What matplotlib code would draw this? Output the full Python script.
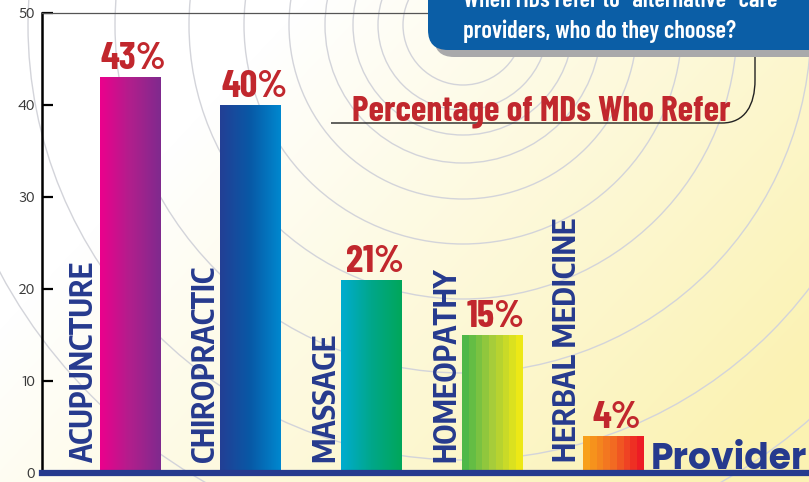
import numpy as np
import matplotlib
matplotlib.use("Agg")
import matplotlib.pyplot as plt
from matplotlib.patches import Circle, FancyBboxPatch, PathPatch
from matplotlib.path import Path
from matplotlib.colors import to_rgb

# data
providers = ["ACUPUNCTURE", "CHIROPRACTIC", "MASSAGE", "HOMEOPATHY", "HERBAL MEDICINE"]
percent = [43, 40, 21, 15, 4]
bar_stops = [
    ["#ec008c", "#b01f8c", "#7f2a8e"],
    ["#233f95", "#0859a6", "#0088cf"],
    ["#00acd0", "#00a78a", "#00a65a"],
    ["#4fb848", "#a6cd3a", "#ede816"],
    ["#f8a01b", "#f26a22", "#ed1c24"],
]
bar_steps = [256, 256, 256, 9, 9]
yticks = [0, 10, 20, 30, 40, 50]

NAVY = "#263a8e"
RED = "#c1272d"
COND = ["Barlow Condensed", "DejaVu Sans"]
LABEL = ["Encode Sans Condensed", "DejaVu Sans"]
GEO = ["Poppins", "DejaVu Sans"]

W, H = 809, 482
fig = plt.figure(figsize=(W / 100, H / 100), dpi=100)

# background: white -> pale yellow with concentric rings
bg = fig.add_axes([0, 0, 1, 1], zorder=0)
bg.set_xlim(0, W)
bg.set_ylim(H, 0)
bg.axis("off")
yy, xx = np.mgrid[0:H, 0:W]
t = np.clip((xx * 0.75 + yy * 0.7 - 230) / 640, 0, 1)[..., None]
grad = np.ones(3) * (1 - t) + np.array(to_rgb("#fbf2b2")) * t
bg.imshow(grad, extent=(0, W, H, 0), aspect="auto", zorder=0)
for r in [60, 85, 110, 138, 174, 219, 274, 348, 435, 525]:
    bg.add_patch(Circle((463, 25), r, fill=False, ec="#d3d4da", lw=1.0, zorder=1))

# main chart
ax = fig.add_axes([42 / W, 9.3 / H, (W - 42) / W, 460 / H], zorder=2)
ax.patch.set_alpha(0)
x = np.arange(len(providers))
width = 0.505
bars = ax.bar(x, percent, width, color="none", edgecolor="none", zorder=3)
for bar, stops, n in zip(bars, bar_stops, bar_steps):
    cols = np.array([to_rgb(c) for c in stops])
    s = np.linspace(0, 1, n)
    pos = np.linspace(0, 1, len(cols))
    g = np.stack([np.interp(s, pos, cols[:, k]) for k in range(3)], axis=-1)[None]
    x0, y0 = bar.get_x(), bar.get_y()
    im = ax.imshow(g, extent=(x0, x0 + bar.get_width(), y0, y0 + bar.get_height()),
                   aspect="auto", interpolation="nearest", zorder=3)
    im.set_clip_path(bar)

for i, (name, v) in enumerate(zip(providers, percent)):
    ax.text(i - 0.375, 1.15, name, rotation=90, ha="center", va="bottom",
            color=NAVY, fontsize=22, fontweight="bold", family=LABEL, zorder=4)
    ax.text(i + 0.03, v + 0.85, f"{v}%", ha="center", va="baseline",
            color=RED, fontsize=28, fontweight="bold", family=COND, zorder=4)

ax.set_xlim(-0.729, 5.623)
ax.set_ylim(0, 50)
ax.set_xticks([])
ax.set_yticks(yticks)
ax.tick_params(axis="y", direction="in", length=8, width=1.6, color="black",
               pad=5, labelsize=10.5, labelcolor="#3a3a3a")
for lab in ax.get_yticklabels():
    lab.set_family(["Kumbh Sans", "DejaVu Sans"])
ax.spines["right"].set_visible(False)
ax.spines["left"].set_color("black")
ax.spines["left"].set_linewidth(1.8)
ax.spines["top"].set_color("#555555")
ax.spines["top"].set_linewidth(0.9)
ax.spines["bottom"].set_color(NAVY)
ax.spines["bottom"].set_linewidth(4.5)
ax.spines["bottom"].set_zorder(5)

# overlay: title, callout box, axis name
ov = fig.add_axes([0, 0, 1, 1], zorder=5)
ov.set_xlim(0, W)
ov.set_ylim(H, 0)
ov.axis("off")
ov.patch.set_alpha(0)

verts = [(331, 123), (722, 123), (745, 123), (755, 105), (755, 80), (755, 50)]
codes = [Path.MOVETO, Path.LINETO, Path.CURVE4, Path.CURVE4, Path.CURVE4, Path.LINETO]
ov.add_patch(PathPatch(Path(verts, codes), fill=False, ec="#222222", lw=1.0))

ov.text(352, 121, "Percentage of MDs Who Refer", color=RED, fontsize=25.5,
        fontweight="bold", family=COND, va="baseline")

ov.add_patch(FancyBboxPatch((434, -40), 420, 97, boxstyle="round,pad=0,rounding_size=20",
                            fc="#a9a9ab", ec="none"))
ov.add_patch(FancyBboxPatch((428, -40), 420, 90, boxstyle="round,pad=0,rounding_size=20",
                            fc="#0b5ea6", ec="none"))
ov.text(463, 7, "When MDs refer to \u201calternative\u201d care", color="white",
        fontsize=17.5, fontweight="semibold", family=COND, va="baseline")
ov.text(463, 38, "providers, who do they choose?", color="white",
        fontsize=17.5, fontweight="semibold", family=COND, va="baseline")

ov.text(651, 469, "Provider", color=NAVY, fontsize=26, fontweight="bold",
        family=GEO, va="baseline")

fig.savefig("out.png", dpi=100)
